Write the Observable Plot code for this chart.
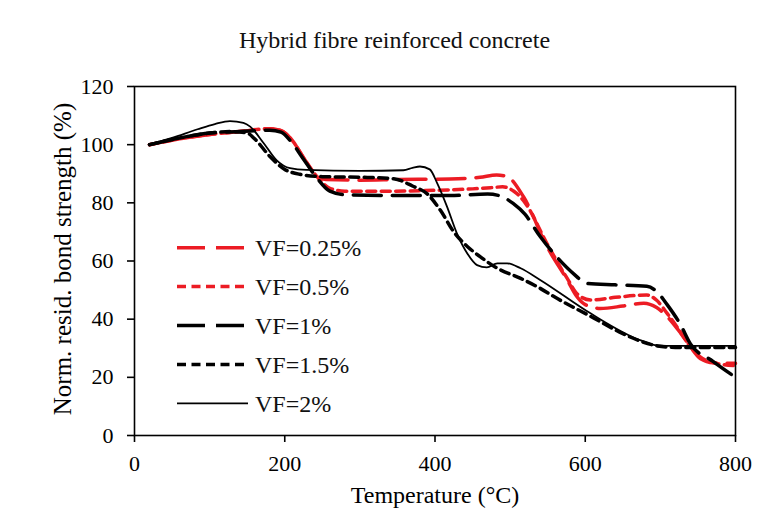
<!DOCTYPE html>
<html>
<head>
<meta charset="utf-8">
<script src="https://cdn.jsdelivr.net/npm/d3@7"></script>
<script src="https://cdn.jsdelivr.net/npm/@observablehq/plot@0.6"></script>
<style>
  body { margin: 0; background: #fff; }
  #wrap { position: relative; width: 764px; height: 515px; background: #fff;
          font-family: "Liberation Serif", "Times New Roman", serif; }
  #title { height: 70px; box-sizing: border-box; padding-top: 28px; padding-left: 25px;
           text-align: center; font-size: 24px; line-height: 24px; color: #111; }
  #legend { position: absolute; left: 0; top: 0; pointer-events: none; }
</style>
</head>
<body>
<div id="wrap">
  <div id="title">Hybrid fibre reinforced concrete</div>
  <div id="chart"></div>
</div>
<script>
// ---- Data ----
const seriesNames = ["VF=0.25%", "VF=0.5%", "VF=1%", "VF=1.5%", "VF=2%"];
const xTicks = [0, 200, 400, 600, 800];
const yTicks = [0, 20, 40, 60, 80, 100, 120];

const t025 = [20, 60, 100, 140, 180, 195, 210, 225, 240, 255, 300, 350, 420, 460, 482, 496, 518, 549, 576, 589, 600, 620, 650, 678, 695, 709, 727, 740, 753, 771, 800];
const v025 = [100, 102, 103.5, 104.5, 105.5, 104.8, 101.5, 95.5, 90, 88, 87.8, 88, 88.2, 88.8, 89.6, 89, 82, 65, 53.5, 47.7, 45, 43.7, 44.5, 45.5, 44, 40.9, 35.2, 30.5, 26.5, 25, 24.8];

const t05 = [20, 60, 100, 140, 180, 195, 210, 225, 243, 260, 280, 330, 400, 450, 474, 490, 505, 520, 549, 576, 590, 607, 640, 682, 695, 709, 727, 740, 753, 771, 800];
const v05 = [100, 102, 103.5, 104.5, 105.5, 104.8, 101.5, 95.5, 89, 85, 84, 84, 84.3, 84.8, 85.2, 85.5, 84, 80, 66, 54, 48.5, 46.6, 47.5, 48.3, 46.5, 42, 35.5, 30.5, 27, 25, 24];

const t1 = [20, 60, 100, 140, 180, 195, 210, 225, 243, 260, 280, 350, 420, 470, 485, 504, 520, 540, 560, 585, 602, 640, 682, 695, 709, 727, 740, 770, 800];
const v1 = [100, 102.3, 104, 104.5, 105, 104.3, 100.5, 95, 88.5, 84, 82.8, 82.5, 82.5, 83, 82.5, 79.8, 76, 68.4, 62, 55.5, 52.3, 51.8, 51.3, 49.5, 45, 38, 31.5, 25.5, 20];

const t15 = [20, 60, 100, 130, 150, 160, 180, 200, 220, 250, 300, 345, 370, 390, 407, 425, 443, 460, 483, 514, 540, 560, 607, 650, 673, 696, 720, 800];
const v15 = [100, 102.3, 104, 104.5, 104, 102, 96, 91.5, 89.8, 89, 88.8, 88.3, 85.8, 83, 77.5, 70, 65, 61.5, 57.5, 54, 50.6, 47.5, 41, 35, 32.5, 30.8, 30.3, 30.3];

const t2 = [20, 50, 84, 107, 127, 145, 154, 172, 189, 207, 229, 300, 358, 370, 380, 393, 403, 416, 429, 443, 456, 469, 483, 496, 514, 540, 607, 673, 696, 720, 800];
const v2 = [100, 102.3, 105.3, 107.1, 108.1, 107.5, 106.2, 100.5, 94.7, 91.9, 91.3, 91, 91.2, 92, 92.5, 91.5, 86.7, 78.7, 69.6, 62.6, 58.6, 57.8, 59.2, 59.2, 57.5, 53.5, 42, 32.8, 31, 30.8, 30.8];

// ---- Styles ----
const RED = "#ec1c24";
const LONG = "28,11";
const SHORT = "9,5.5";
const styles = [
  {color: RED, dash: LONG, width: 3.5},
  {color: RED, dash: SHORT, width: 3.5},
  {color: "#000", dash: LONG, width: 3.5},
  {color: "#000", dash: SHORT, width: 3.5},
  {color: "#000", dash: null, width: 1.8}
];
const temps = [t025, t05, t1, t15, t2];
const vals = [v025, v05, v1, v15, v2];

const rows = seriesNames.map((name, k) => temps[k].map((t, i) => ({T: t, V: vals[k][i], s: name})));

const FONT = '"Liberation Serif", "Times New Roman", serif';

const lineMarks = rows.map((data, k) => Plot.line(data, {
  x: "T", y: "V",
  stroke: styles[k].color,
  strokeWidth: styles[k].width,
  strokeDasharray: styles[k].dash || undefined,
  curve: "monotone-x"
}));

const chart = Plot.plot({
  width: 764,
  height: 445,
  marginLeft: 134,
  marginRight: 29,
  marginTop: 16,
  marginBottom: 80,
  style: {fontFamily: FONT, fontSize: "22px", color: "black", background: "white", overflow: "visible"},
  x: {domain: [0, 800], label: null},
  y: {domain: [0, 120], label: null},
  marks: [
    ...lineMarks,
    Plot.frame({stroke: "black", strokeWidth: 1.6}),
    Plot.axisX({ticks: xTicks, tickSize: 7, tickPadding: 13, label: null, strokeWidth: 1.6, fontSize: 22}),
    Plot.axisY({ticks: yTicks, tickSize: 7, tickPadding: 14, label: null, strokeWidth: 1.6, fontSize: 22}),
    Plot.text(["Temperature (°C)"], {text: d => d, frameAnchor: "bottom", dy: 67, fontSize: 24}),
    Plot.text(["Norm. resid. bond strength (%)"], {text: d => d, frameAnchor: "left", textAnchor: "middle", rotate: -90, dx: -72, dy: -2, fontSize: 25})
  ]
});
document.getElementById("chart").appendChild(chart);

// ---- Legend (overlay inside plot area) ----
const leg = d3.select("#wrap").append("svg")
  .attr("id", "legend").attr("width", 764).attr("height", 515);
const legTop = 247.7, legStep = 38.9, lx0 = 177, lx1 = 248, tx = 255;
seriesNames.forEach((name, k) => {
  const y = legTop + k * legStep;
  const g = leg.append("g");
  g.append("line").attr("x1", lx0).attr("x2", lx1).attr("y1", y).attr("y2", y)
    .attr("stroke", styles[k].color).attr("stroke-width", styles[k].width)
    .attr("stroke-dasharray", styles[k].dash);
  g.append("text").attr("x", tx).attr("y", y + 8.5)
    .attr("font-family", FONT).attr("font-size", 24).attr("fill", "#111").text(name);
});
</script>
</body>
</html>
